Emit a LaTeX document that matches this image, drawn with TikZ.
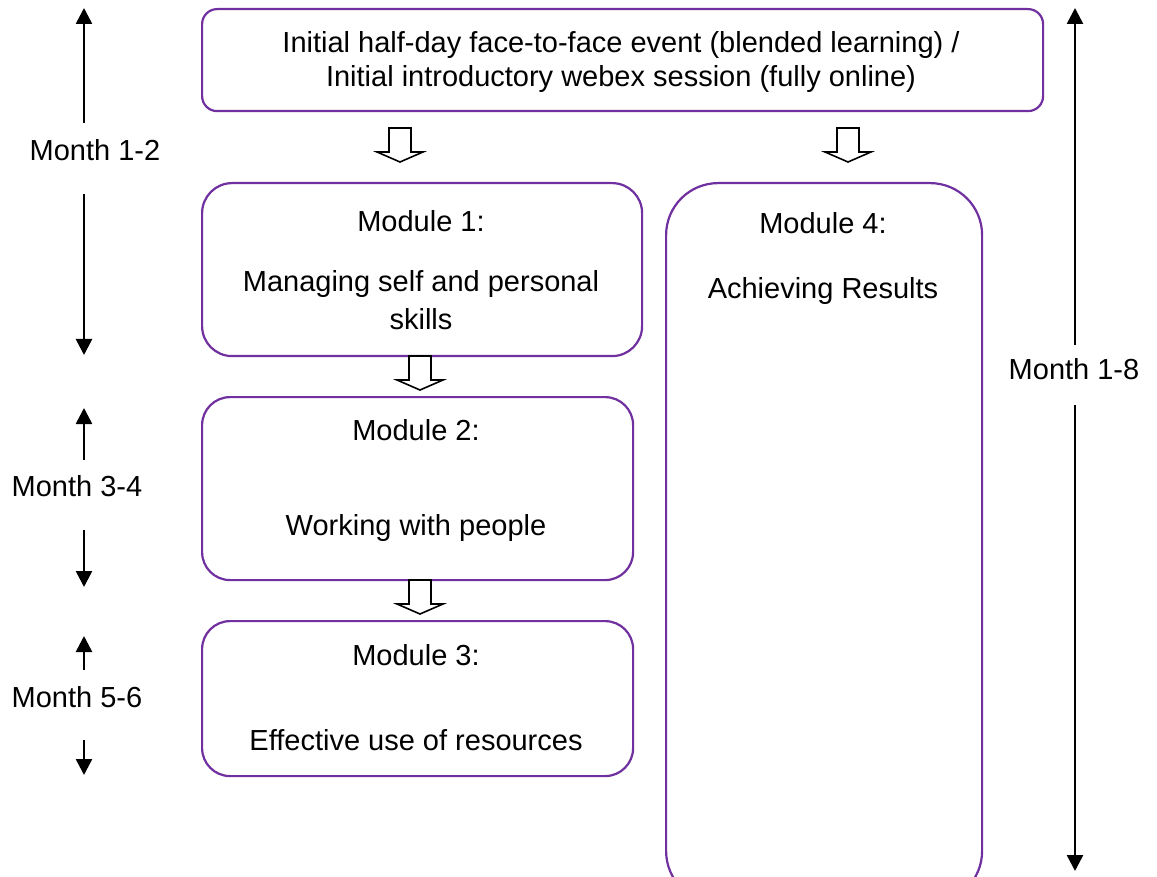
\documentclass[tikz,border=0pt]{standalone}
\usepackage{fontspec}
\setmainfont{Liberation Sans}
\usetikzlibrary{arrows.meta}
\definecolor{boxpurple}{HTML}{7030A0}
\newcommand{\blockarrowdown}[3]{% name, x, top y
  \path[draw=black,line width=1.6pt,fill=white,line join=miter]
    (#2-11,#3) -- (#2+11,#3) -- (#2+11,#3+24) -- (#2+23,#3+24) -- (#2,#3+34)
    -- (#2-23,#3+24) -- (#2-11,#3+24) -- cycle;
  \coordinate (#1) at (#2,#3);}
\begin{document}
\begin{tikzpicture}[x=1pt,y=-1pt,
  box/.style={draw=boxpurple,line width=2.2pt,anchor=north west,inner sep=0pt},
  txt/.style={font=\fontsize{29}{33}\selectfont,inner sep=0pt,anchor=base},
  timeline/.style={line width=2.6pt,-{Triangle[width=16pt,length=16pt]}}]
\useasboundingbox (0,0) rectangle (1157,877);
% boxes
\node[box,rounded corners=15pt,minimum width=841pt,minimum height=102pt] (top) at (201,8) {};
\node[box,rounded corners=30pt,minimum width=440pt,minimum height=173pt] (mod1) at (201,182) {};
\node[box,rounded corners=28pt,minimum width=431pt,minimum height=183pt] (mod2) at (201,396) {};
\node[box,rounded corners=28pt,minimum width=431pt,minimum height=155pt] (mod3) at (201,620) {};
\node[box,rounded corners=52pt,minimum width=316pt,minimum height=720pt] (mod4) at (665,182) {};
% box texts
\node[txt] (t1) at (621,53) {Initial half-day face-to-face event (blended learning) /};
\node[txt] (t2) at (621,87) {Initial introductory webex session (fully online)};
\node[txt] (m1a) at (421,232) {Module 1:};
\node[txt] (m1b) at (421,292) {Managing self and personal};
\node[txt] (m1c) at (421,330) {skills};
\node[txt] (m4a) at (823,234) {Module 4:};
\node[txt] (m4b) at (823,299) {Achieving Results};
\node[txt] (m2a) at (416,440) {Module 2:};
\node[txt] (m2b) at (416,535) {Working with people};
\node[txt] (m3a) at (416,665) {Module 3:};
\node[txt] (m3b) at (416,750) {Effective use of resources};
% block arrows
\blockarrowdown{ba1}{400}{128}
\blockarrowdown{ba2}{848}{128}
\blockarrowdown{ba3}{420}{356}
\blockarrowdown{ba4}{420}{580}
% time lines
\node[txt] (l12) at (95,161) {Month 1-2};
\node[txt] (l34) at (77,496) {Month 3-4};
\node[txt] (l56) at (77,707) {Month 5-6};
\node[txt] (l18) at (1074,380) {Month 1-8};
\coordinate (a12s) at (84,123); \coordinate (a12t) at (84,8);
\coordinate (a12d) at (84,194); \coordinate (a12b) at (84,355);
\coordinate (a34s) at (84,460); \coordinate (a34t) at (84,408);
\coordinate (a34d) at (84,530); \coordinate (a34b) at (84,587);
\coordinate (a56s) at (84,670); \coordinate (a56t) at (84,636);
\coordinate (a56d) at (84,740); \coordinate (a56b) at (84,775);
\coordinate (a18s) at (1075,345); \coordinate (a18t) at (1075,8);
\coordinate (a18d) at (1075,405); \coordinate (a18b) at (1075,871);
\draw[timeline] (a12s) -- (a12t);
\draw[timeline] (a12d) -- (a12b);
\draw[timeline] (a34s) -- (a34t);
\draw[timeline] (a34d) -- (a34b);
\draw[timeline] (a56s) -- (a56t);
\draw[timeline] (a56d) -- (a56b);
\draw[timeline] (a18s) -- (a18t);
\draw[timeline] (a18d) -- (a18b);
\end{tikzpicture}
\end{document}
